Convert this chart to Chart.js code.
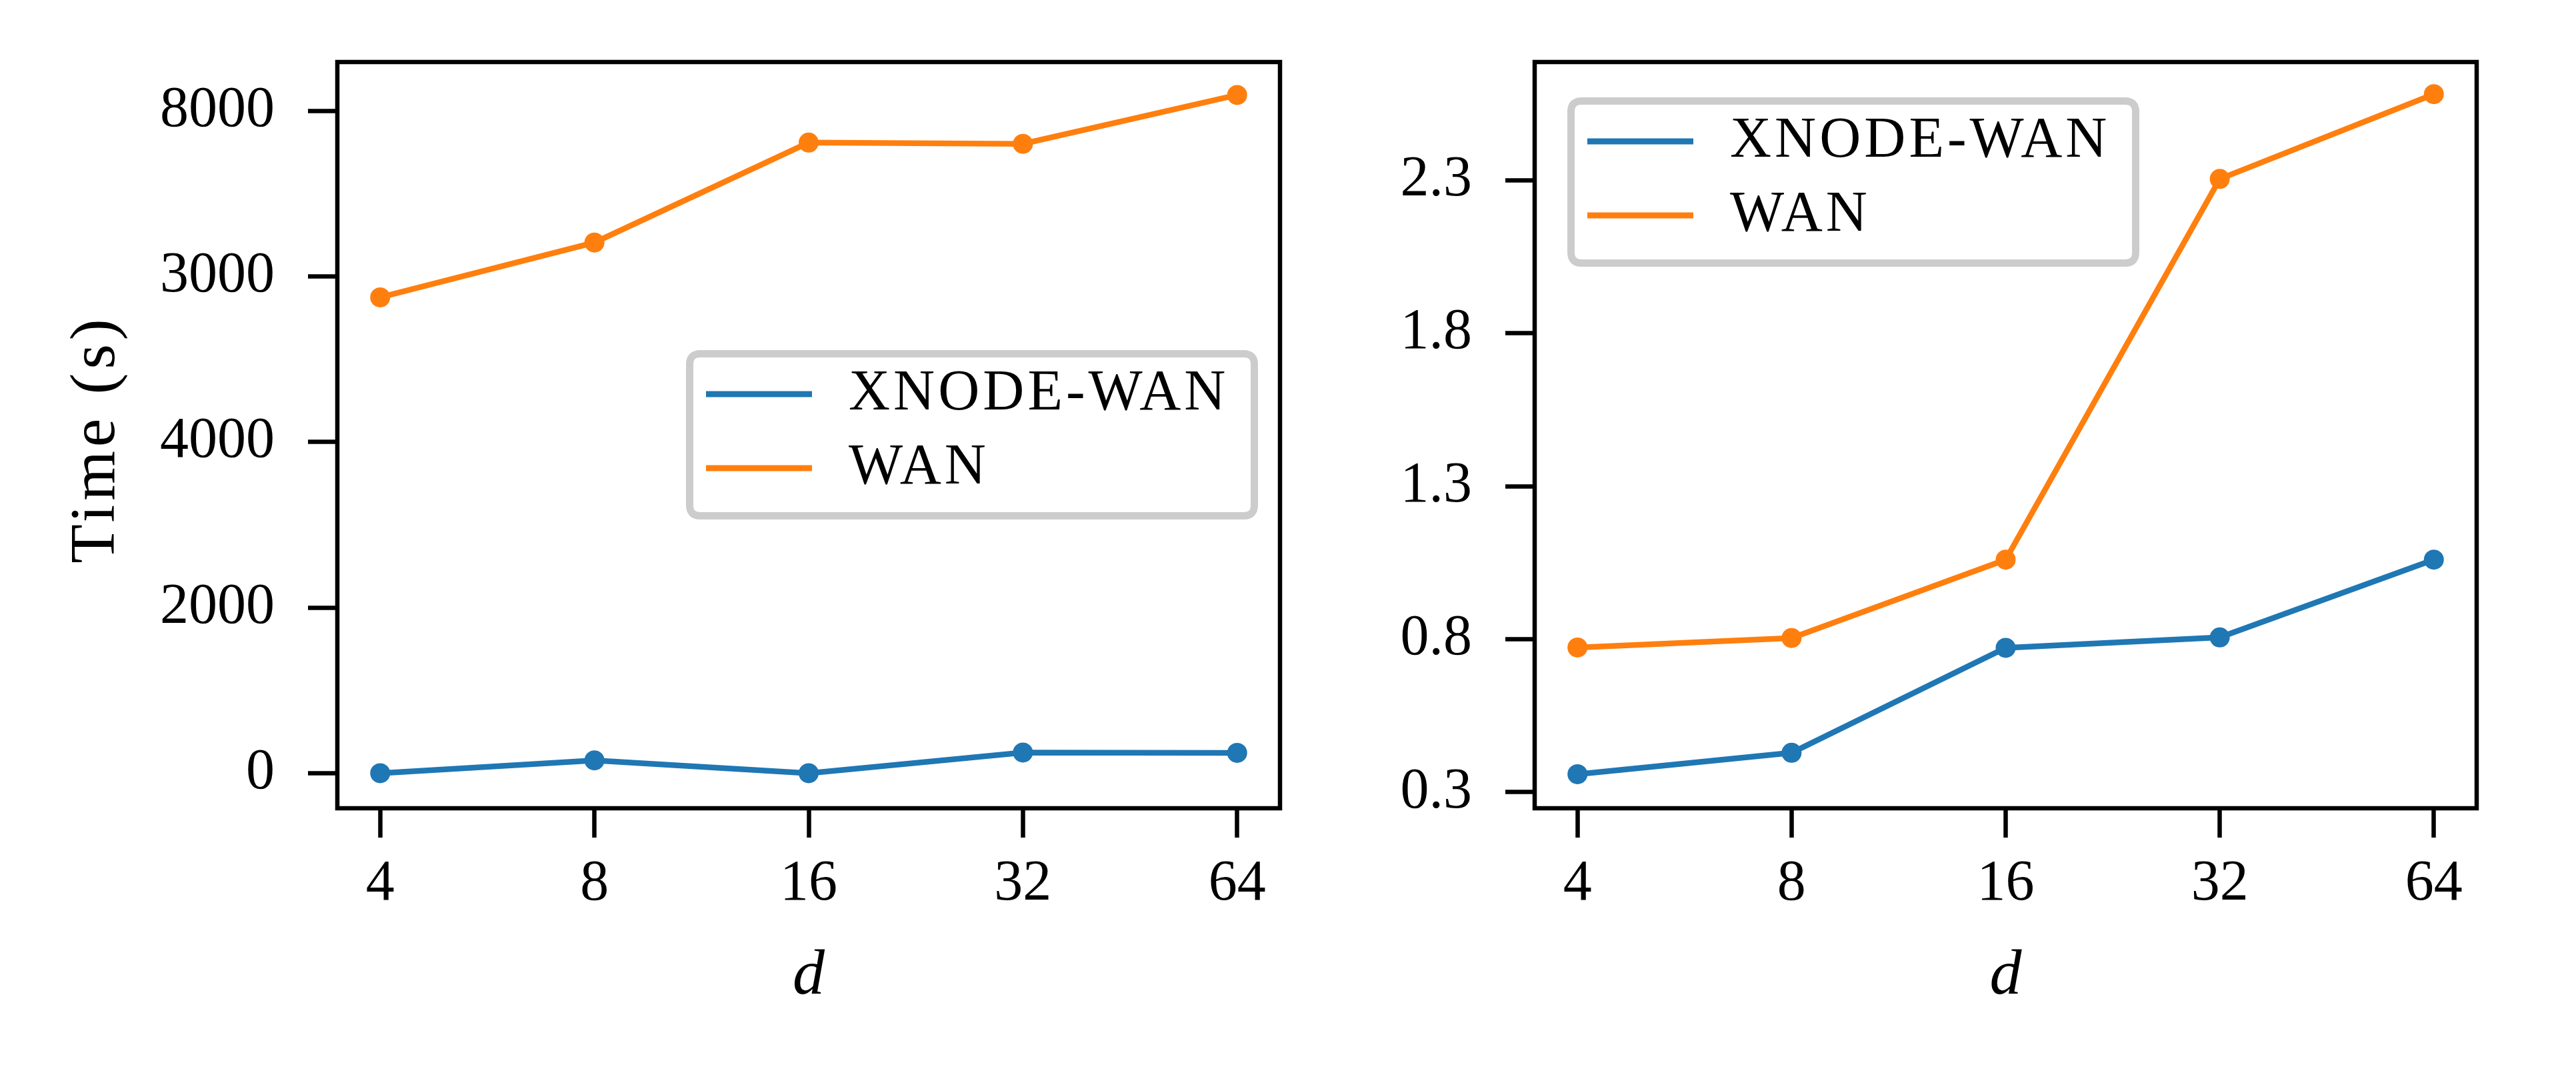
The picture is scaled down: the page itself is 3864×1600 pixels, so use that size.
<!DOCTYPE html>
<html>
<head>
<meta charset="utf-8">
<script src="https://cdn.jsdelivr.net/npm/chart.js@4.4.1/dist/chart.umd.min.js"></script>
<style>
  html, body { margin: 0; padding: 0; background: #ffffff; }
  body { width: 3864px; height: 1600px; position: relative; overflow: hidden; }
  canvas { position: absolute; top: 0; }
  #c1 { left: 0px; }
  #c2 { left: 1960px; }
</style>
</head>
<body>
<canvas id="c1" width="1960" height="1600"></canvas>
<canvas id="c2" width="1904" height="1600"></canvas>
<script>
// ---------------- data ----------------
const categories = ['4', '8', '16', '32', '64'];
const seriesNames = ['XNODE-WAN', 'WAN'];

const leftXnode = [0, 155, 0, 250, 246];
const leftWan = [5746, 6408, 7615, 7600, 8190];
const leftYTicks = [0, 2000, 4000, 6000, 8000];
const leftYTickLabels = ['0', '2000', '4000', '3000', '8000'];

const rightXnode = [0.359, 0.429, 0.772, 0.806, 1.060];
const rightWan = [0.773, 0.804, 1.060, 2.304, 2.581];
const rightYTicks = [0.3, 0.8, 1.3, 1.8, 2.3];
const rightYTickLabels = ['0.3', '0.8', '1.3', '1.8', '2.3'];

const xTitle = 'd';
const yTitleLeft = 'Time (s)';

// ---------------- styles ----------------
const BLUE = '#1f77b4';
const ORANGE = '#ff7f0e';
const SERIF = '"Liberation Serif", "DejaVu Serif", serif';
const TICK_FONT = 86;
const TITLE_FONT = 96;
const FRAME_W = 6.5;
const TICK_LEN = 44;

function toPoints(arr) { return arr.map((v, i) => ({ x: i, y: v })); }

const framePlugin = {
  id: 'frame',
  afterDatasetsDraw(chart) {
    const { ctx, chartArea: a } = chart;
    ctx.save();
    ctx.strokeStyle = '#000';
    ctx.lineWidth = FRAME_W;
    ctx.strokeRect(a.left, a.top, a.right - a.left, a.bottom - a.top);
    ctx.restore();
  }
};

function roundRect(ctx, x, y, w, h, r) {
  ctx.beginPath();
  ctx.moveTo(x + r, y);
  ctx.lineTo(x + w - r, y);
  ctx.quadraticCurveTo(x + w, y, x + w, y + r);
  ctx.lineTo(x + w, y + h - r);
  ctx.quadraticCurveTo(x + w, y + h, x + w - r, y + h);
  ctx.lineTo(x + r, y + h);
  ctx.quadraticCurveTo(x, y + h, x, y + h - r);
  ctx.lineTo(x, y + r);
  ctx.quadraticCurveTo(x, y, x + r, y);
  ctx.closePath();
}

const legendPlugin = {
  id: 'boxLegend',
  afterDraw(chart, args, opts) {
    const { ctx } = chart;
    const bx = opts.x, by = opts.y, bw = opts.w, bh = opts.h;
    const bwidth = 11;
    ctx.save();
    roundRect(ctx, bx + bwidth / 2, by + bwidth / 2, bw - bwidth, bh - bwidth, 16);
    ctx.fillStyle = 'rgba(255,255,255,0.8)';
    ctx.fill();
    ctx.strokeStyle = '#cccccc';
    ctx.lineWidth = bwidth;
    ctx.stroke();
    const rows = [66, 177];
    chart.data.datasets.forEach((ds, i) => {
      const yy = by + rows[i];
      ctx.strokeStyle = ds.borderColor;
      ctx.lineWidth = 9;
      ctx.lineCap = 'butt';
      ctx.beginPath();
      ctx.moveTo(bx + 30, yy);
      ctx.lineTo(bx + 189, yy);
      ctx.stroke();
      ctx.fillStyle = '#000';
      ctx.font = TICK_FONT + 'px ' + SERIF;
      ctx.textBaseline = 'middle';
      ctx.textAlign = 'left';
      try { ctx.letterSpacing = '5px'; } catch (e) {}
      ctx.fillText(ds.label, bx + 244, yy);
    });
    ctx.restore();
  }
};

// y-axis title drawn by hand so its spacing can follow the reference
const yTitlePlugin = {
  id: 'yTitle',
  afterDraw(chart, args, opts) {
    if (!opts.text) return;
    const { ctx, chartArea: a } = chart;
    ctx.save();
    ctx.translate(opts.x, (a.top + a.bottom) / 2 + 6);
    ctx.rotate(-Math.PI / 2);
    ctx.fillStyle = '#000';
    ctx.font = TITLE_FONT + 'px ' + SERIF;
    try { ctx.letterSpacing = '6px'; } catch (e) {}
    ctx.textAlign = 'center';
    ctx.textBaseline = 'middle';
    ctx.fillText(opts.text, 0, 0);
    ctx.restore();
  }
};

function makeChart(id, xnode, wan, yMin, yMax, yTicks, yTickLabels, yTitle, axisWidth, padRight, legendPos) {
  const ctx = document.getElementById(id).getContext('2d');
  return new Chart(ctx, {
    type: 'line',
    data: {
      datasets: [
        { label: seriesNames[0], data: toPoints(xnode), borderColor: BLUE, backgroundColor: BLUE,
          pointBackgroundColor: BLUE, pointBorderWidth: 0, pointRadius: 15, borderWidth: 8.5, tension: 0, fill: false },
        { label: seriesNames[1], data: toPoints(wan), borderColor: ORANGE, backgroundColor: ORANGE,
          pointBackgroundColor: ORANGE, pointBorderWidth: 0, pointRadius: 15, borderWidth: 8.5, tension: 0, fill: false }
      ]
    },
    options: {
      responsive: false,
      animation: false,
      devicePixelRatio: 1,
      layout: { padding: { top: 93, right: padRight, left: 0, bottom: 0 }, autoPadding: false },
      plugins: {
        legend: { display: false },
        tooltip: { enabled: false },
        boxLegend: legendPos,
        yTitle: { text: yTitle, x: 146 }
      },
      scales: {
        x: {
          type: 'linear',
          min: -0.2,
          max: 4.2,
          afterBuildTicks: (s) => { s.ticks = categories.map((c, i) => ({ value: i })); },
          afterFit: (s) => { s.height = 388; s.paddingLeft = 0; s.paddingRight = 0; },
          ticks: {
            callback: (v) => categories[Math.round(v)],
            font: { family: SERIF, size: TICK_FONT, lineHeight: 1.2 },
            color: '#000',
            padding: 19,
            maxRotation: 0,
            autoSkip: false
          },
          grid: { display: true, drawOnChartArea: false, drawTicks: true, tickLength: TICK_LEN, tickWidth: FRAME_W, tickColor: '#000' },
          border: { display: false },
          title: {
            display: true,
            text: xTitle,
            color: '#000',
            font: { family: SERIF, size: TITLE_FONT, style: 'italic', lineHeight: 1.2 },
            padding: { top: 0, bottom: 78 }
          }
        },
        y: {
          type: 'linear',
          min: yMin,
          max: yMax,
          afterBuildTicks: (s) => { s.ticks = yTicks.map(v => ({ value: v })); },
          afterFit: (s) => { s.width = axisWidth; s.paddingTop = 0; s.paddingBottom = 0; },
          ticks: {
            callback: (v, i) => yTickLabels[i],
            font: { family: SERIF, size: TICK_FONT, lineHeight: 1.2 },
            color: '#000',
            padding: 50,
            autoSkip: false
          },
          grid: { display: true, drawOnChartArea: false, drawTicks: true, tickLength: TICK_LEN, tickWidth: FRAME_W, tickColor: '#000' },
          border: { display: false }
        }
      }
    },
    plugins: [framePlugin, legendPlugin, yTitlePlugin]
  });
}

makeChart('c1', leftXnode, leftWan, -423, 8588, leftYTicks, leftYTickLabels, yTitleLeft, 506, 40,
  { x: 1029, y: 525, w: 858, h: 254 });
makeChart('c2', rightXnode, rightWan, 0.2477, 2.686, rightYTicks, rightYTickLabels, null, 342, 149,
  { x: 2351 - 1960, y: 146, w: 858, h: 254 });
</script>
</body>
</html>
